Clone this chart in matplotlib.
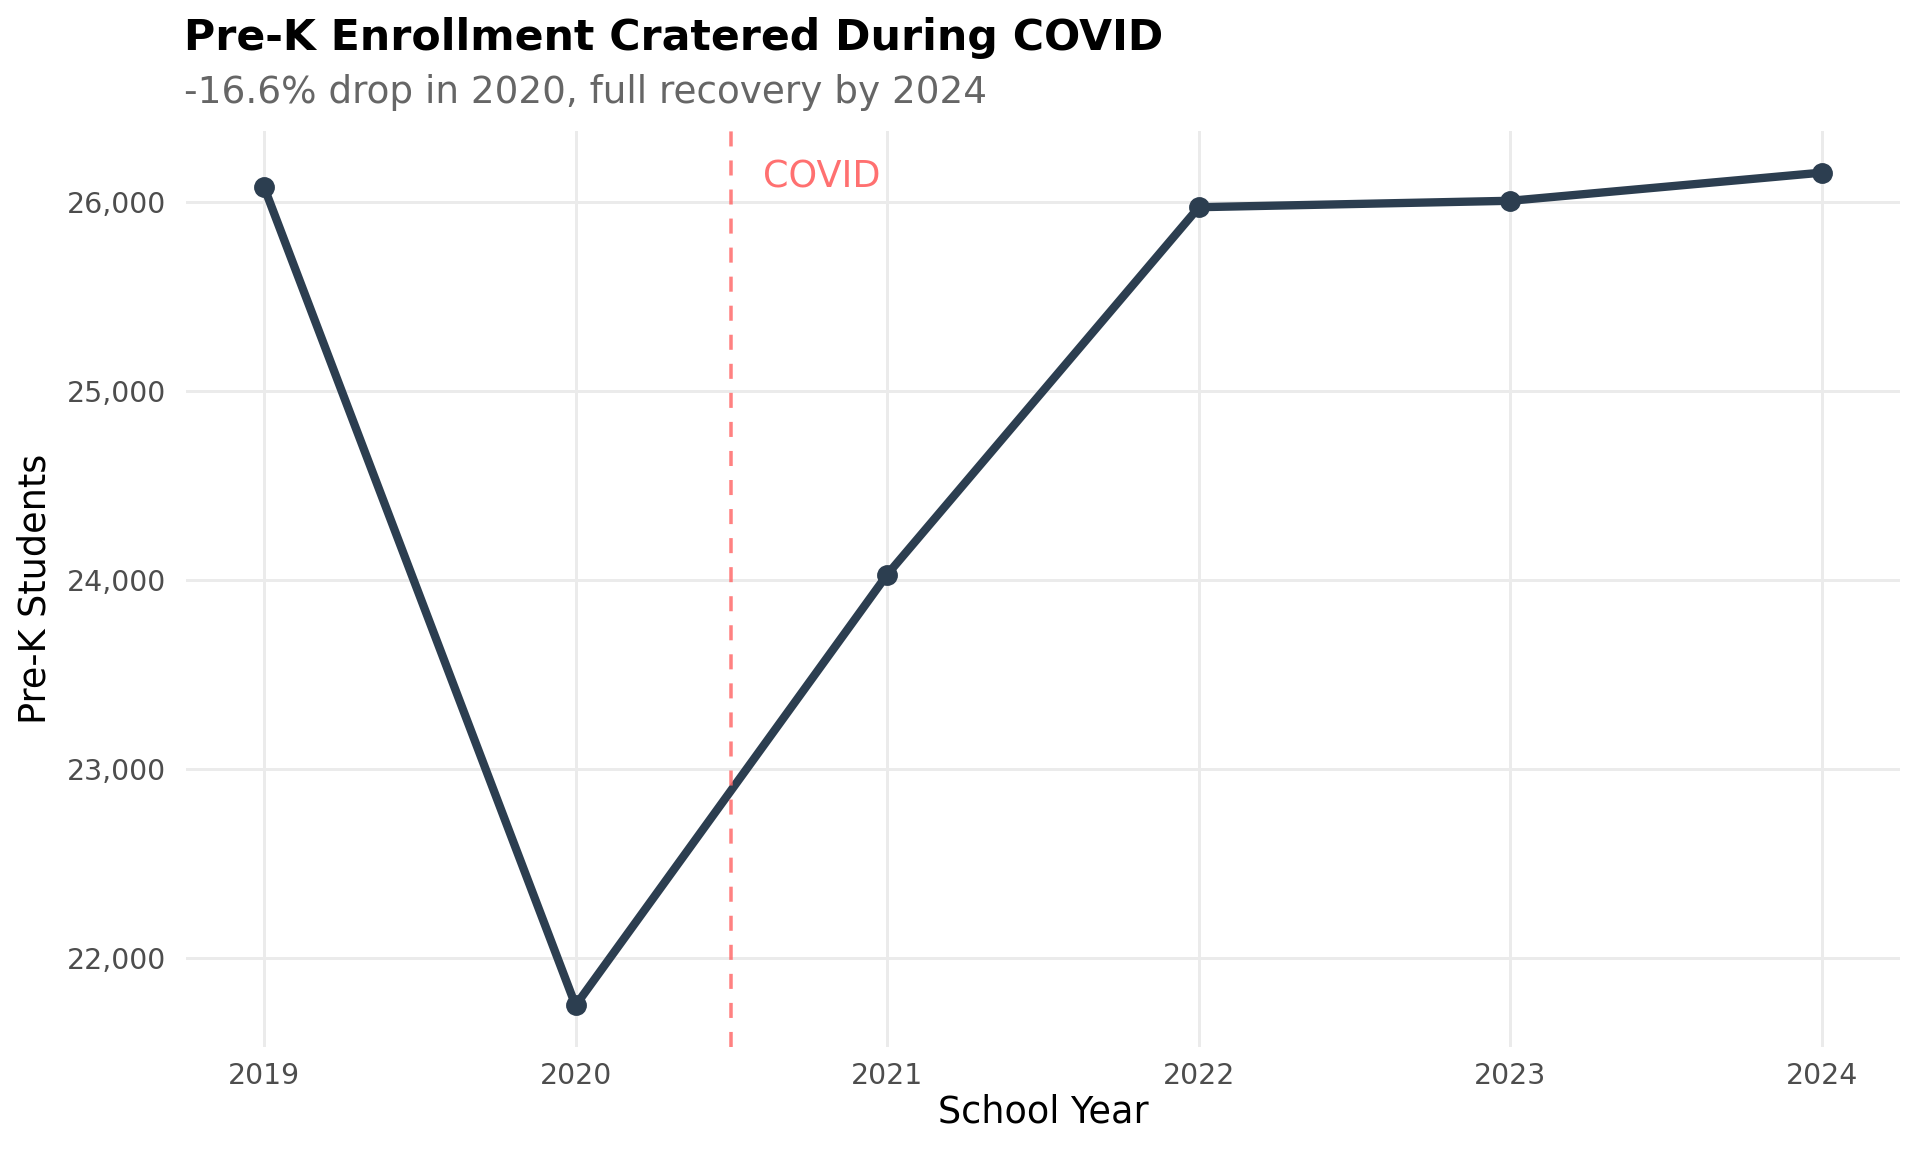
import matplotlib
matplotlib.use("Agg")
import matplotlib.pyplot as plt
from matplotlib.ticker import FuncFormatter

years = [2019, 2020, 2021, 2022, 2023, 2024]
students = [26078, 21750, 24028, 25970, 26004, 26153]
y_ticks = [22000, 23000, 24000, 25000, 26000]
covid_x = 2020.5

title = "Pre-K Enrollment Cratered During COVID"
subtitle = "-16.6% drop in 2020, full recovery by 2024"

fig = plt.figure(figsize=(16, 9.6), dpi=120)
ax = fig.add_axes([0.0969, 0.0911, 0.8927, 0.7952])

for s in ax.spines.values():
    s.set_visible(False)

ax.set_xlim(2018.75, 2024.25)
ax.set_ylim(21530, 26373)
ax.set_xticks(years)
ax.set_yticks(y_ticks)
ax.yaxis.set_major_formatter(FuncFormatter(lambda v, p: f"{int(v):,}"))
ax.grid(True, color="#ebebeb", linewidth=1.8)
ax.set_axisbelow(True)
ax.tick_params(length=0, labelsize=17, labelcolor="#4d4d4d")
ax.tick_params(axis="x", pad=9)
ax.tick_params(axis="y", pad=12)

ax.plot(years, students, color="#2c3e50", linewidth=5, marker="o", markersize=11.5,
        solid_capstyle="round", zorder=3)

ax.axvline(covid_x, color="#ff6b6b", linestyle=(0, (4.3, 4.0)), linewidth=2.1,
           alpha=0.85, zorder=4)
ax.text(covid_x + 0.1, 26075, "COVID", color="#ff7070", fontsize=22, ha="left", va="baseline")

ax.set_xlabel("School Year", fontsize=22, labelpad=2)
ax.set_ylabel("Pre-K Students", fontsize=22, labelpad=8)

fig.text(184/1920, 1 - 50/1152, title, fontsize=25.6, fontweight="bold", ha="left", va="baseline")
fig.text(184/1920, 1 - 103/1152, subtitle, fontsize=22.4, color="#666666", ha="left", va="baseline")

fig.savefig("out.png", dpi=120, facecolor="white")
